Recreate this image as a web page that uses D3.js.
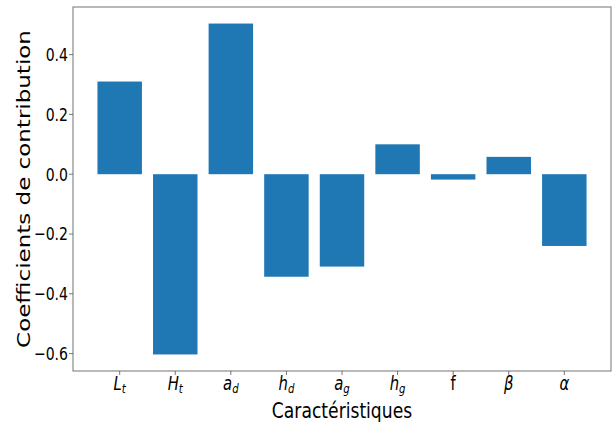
<!DOCTYPE html>
<html>
<head>
<meta charset="utf-8">
<script src="https://cdn.jsdelivr.net/npm/d3@7"></script>
<style>
  html, body { margin: 0; padding: 0; background: #fff; }
  svg { display: block; font-family: "DejaVu Sans", sans-serif; }
</style>
</head>
<body>
<svg id="chart" width="612" height="426"></svg>
<script>
const categories = ["Lt", "Ht", "ad", "hd", "ag", "hg", "f", "β", "α"];
const labelMain = ["L", "H", "a", "h", "a", "h", "f", "β", "α"];
const labelSub = ["t", "t", "d", "d", "g", "g", "", "", ""];
const labelItalic = [true, true, true, true, true, true, false, true, true];
const values = [0.31, -0.603, 0.504, -0.343, -0.309, 0.1, -0.018, 0.058, -0.24];
const yTicks = [-0.6, -0.4, -0.2, 0.0, 0.2, 0.4];
const xTitle = "Caractéristiques";
const yTitle = "Coefficients de contribution";

const svg = d3.select("#chart");
const m = { left: 73, right: 611, top: 7, bottom: 371 };
const sx = 0.78;

const idx = categories.map((d, i) => i);
const barW = 0.8;
const xPad = 0.05 * (idx.length - 1 + barW);
const x = d3.scaleLinear()
  .domain([-barW / 2 - xPad, idx.length - 1 + barW / 2 + xPad])
  .range([m.left, m.right]);
const yMin = Math.min(0, d3.min(values)), yMax = Math.max(0, d3.max(values));
const yPad = 0.05 * (yMax - yMin);
const y = d3.scaleLinear().domain([yMin - yPad, yMax + yPad]).range([m.bottom, m.top]);

// bars
svg.append("g").selectAll("rect").data(values).join("rect")
  .attr("x", (d, i) => x(i - barW / 2))
  .attr("width", (d, i) => x(i + barW / 2) - x(i - barW / 2))
  .attr("y", d => y(Math.max(0, d)))
  .attr("height", d => Math.abs(y(d) - y(0)))
  .attr("fill", "#1f77b4");

// frame
svg.append("rect")
  .attr("x", m.left).attr("y", m.top)
  .attr("width", m.right - m.left).attr("height", m.bottom - m.top)
  .attr("fill", "none").attr("stroke", "#8a8a8a").attr("stroke-width", 1.2);

// y axis
const yg = svg.append("g");
yTicks.forEach(t => {
  const yy = y(t);
  yg.append("line").attr("x1", m.left - 4).attr("x2", m.left)
    .attr("y1", yy).attr("y2", yy).attr("stroke", "#555").attr("stroke-width", 0.8);
  yg.append("text")
    .attr("transform", `translate(${m.left - 5},${yy}) scale(${sx},1)`)
    .attr("text-anchor", "end").attr("dy", "0.36em")
    .attr("font-size", 18).attr("fill", "#000")
    .text(d3.format(".1f")(t).replace("-", "\u2212"));
});

// x axis
const xg = svg.append("g");
idx.forEach(i => {
  const xx = x(i);
  xg.append("line").attr("x1", xx).attr("x2", xx)
    .attr("y1", m.bottom).attr("y2", m.bottom + 4).attr("stroke", "#555").attr("stroke-width", 0.8);
  const t = xg.append("text")
    .attr("transform", `translate(${xx},${m.bottom + 19}) scale(${sx},1)`)
    .attr("text-anchor", "middle").attr("font-size", 19).attr("fill", "#000");
  t.append("tspan").attr("font-style", labelItalic[i] ? "italic" : "normal").text(labelMain[i]);
  if (labelSub[i]) {
    t.append("tspan").attr("font-style", "italic").attr("font-size", 13)
      .attr("dy", 3).text(labelSub[i]);
  }
});

// titles
svg.append("text")
  .attr("transform", `translate(${(m.left + m.right) / 2},${418}) scale(${sx},1)`)
  .attr("text-anchor", "middle").attr("font-size", 22).attr("fill", "#000")
  .text(xTitle);

svg.append("text")
  .attr("transform", `translate(30,189) rotate(-90) scale(1,${sx})`)
  .attr("text-anchor", "middle").attr("font-size", 23).attr("fill", "#000")
  .text(yTitle);
</script>
</body>
</html>
